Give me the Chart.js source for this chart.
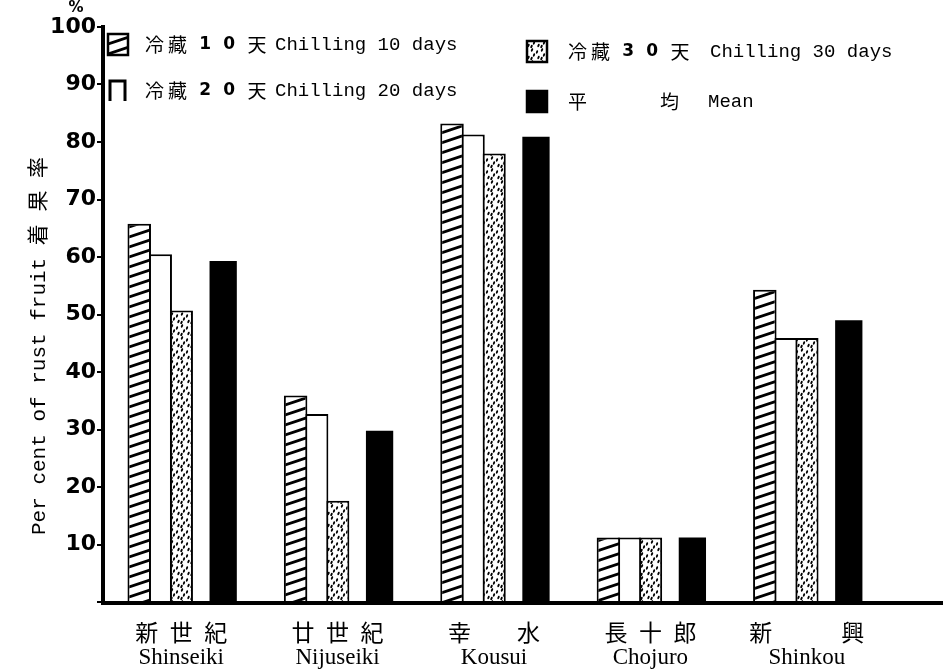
<!DOCTYPE html>
<html>
<head>
<meta charset="utf-8">
<script src="https://cdn.jsdelivr.net/npm/chart.js@4.4.1/dist/chart.umd.min.js"></script>
<style>
  html, body { margin: 0; padding: 0; background: #fff; }
  #caja { width: 943px; height: 671px; position: relative; }
</style>
</head>
<body>
<div id="caja"><canvas id="grafico"></canvas></div>
<script>
const variedades = [
  ["新  世  紀", "Shinseiki"],
  ["廿  世  紀", "Nijuseiki"],
  ["幸　　水", "Kousui"],
  ["長  十  郎", "Chojuro"],
  ["新　　　興", "Shinkou"]
];
const frio10 = [65.8, 35.9, 83.2, 11.2, 54.3];
const frio20 = [60.5, 32.7, 81.3, 11.2, 45.9];
const frio30 = [50.7, 17.6, 78.0, 11.2, 45.9];
const promedio = [59.3, 29.8, 80.9, 11.2, 49.0];
const hueco = [null, null, null, null, null];

const etiquetasCjk = ["冷藏 1 0 天", "冷藏 2 0 天", "冷藏 3 0 天", "平　　　均"];
const etiquetasEn = ["Chilling 10 days", "Chilling 20 days", "Chilling 30 days", "Mean"];
const tituloY = "Per cent of rust fruit 着 果 率";

// patrones de relleno
function patronRayado() {
  const c = document.createElement("canvas");
  c.width = 30; c.height = 10;
  const g = c.getContext("2d");
  g.fillStyle = "#fff";
  g.fillRect(0, 0, 30, 10);
  g.strokeStyle = "#000";
  g.lineWidth = 2.8;
  for (let k = -2; k <= 2; k++) {
    g.beginPath();
    g.moveTo(-30, 20 + k * 10);
    g.lineTo(60, -10 + k * 10);
    g.stroke();
  }
  return g.createPattern(c, "repeat");
}

function patronPuntos() {
  const c = document.createElement("canvas");
  c.width = 10; c.height = 12;
  const g = c.getContext("2d");
  g.fillStyle = "#fff";
  g.fillRect(0, 0, 10, 12);
  g.fillStyle = "#000";
  [[2, 2], [7, 4], [4, 7], [8.5, 9.5], [1.5, 10.5]].forEach(p => {
    g.beginPath();
    g.ellipse(p[0], p[1], 1.0, 1.8, 0.35, 0, Math.PI * 2);
    g.fill();
  });
  return g.createPattern(c, "repeat");
}

const rayado = patronRayado();
const puntos = patronPuntos();

function textoCjk(ctx, texto, x, y) {
  let px = x;
  for (const ch of texto) {
    if (/[0-9]/.test(ch)) ctx.font = "bold 17px 'DejaVu Sans'";
    else ctx.font = "19px 'Noto Sans CJK JP'";
    ctx.fillText(ch, px, y);
    px += ctx.measureText(ch).width + 4;
  }
}

const leyenda = {
  id: "leyenda",
  afterDraw(chart) {
    const ctx = chart.ctx;
    ctx.save();
    ctx.fillStyle = "#000";
    ctx.textBaseline = "middle";

    // "%" sobre el eje
    ctx.font = "bold 15px 'DejaVu Sans'";
    ctx.textAlign = "center";
    ctx.fillText("%", 76, 8);
    ctx.textAlign = "left";

    const sitios = [[108, 34, 145, 275], [108, 80, 145, 275], [527, 41, 568, 710], [527, 91, 568, 708]];
    const fondos = [rayado, "#fff", puntos, "#000"];
    sitios.forEach((s, i) => {
      const [sx, sy, cx, ex] = s;
      if (i === 1) {
        ctx.strokeStyle = "#000";
        ctx.lineWidth = 3;
        ctx.beginPath();
        ctx.moveTo(sx + 2, sy + 21);
        ctx.lineTo(sx + 2, sy + 1);
        ctx.lineTo(sx + 17, sy + 1);
        ctx.lineTo(sx + 17, sy + 21);
        ctx.stroke();
      } else {
        ctx.fillStyle = fondos[i];
        ctx.fillRect(sx, sy, 20, 21);
        ctx.strokeStyle = "#000";
        ctx.lineWidth = 2.5;
        ctx.strokeRect(sx, sy, 20, 21);
      }
      ctx.fillStyle = "#000";
      textoCjk(ctx, etiquetasCjk[i], cx, sy + 11);
      ctx.font = "19px 'Liberation Mono'";
      ctx.fillText(etiquetasEn[i], ex, sy + 11);
    });
    ctx.restore();
  }
};

const lineaBase = {
  id: "lineaBase",
  afterDatasetsDraw(chart) {
    const ctx = chart.ctx;
    const a = chart.chartArea;
    ctx.save();
    ctx.strokeStyle = "#000";
    ctx.lineWidth = 4;
    ctx.beginPath();
    ctx.moveTo(a.left - 2, a.bottom + 1);
    ctx.lineTo(chart.width, a.bottom + 1);
    ctx.stroke();
    ctx.restore();
  }
};

const ctx = document.getElementById("grafico").getContext("2d");

const grafico = new Chart(ctx, {
  type: "bar",
  data: {
    labels: variedades,
    datasets: [
      { label: etiquetasEn[0], data: frio10, backgroundColor: rayado, borderColor: "#000", borderWidth: 2, barPercentage: 1.12 },
      { label: etiquetasEn[1], data: frio20, backgroundColor: "#fff", borderColor: "#000", borderWidth: 2, barPercentage: 1.12 },
      { label: etiquetasEn[2], data: frio30, backgroundColor: puntos, borderColor: "#000", borderWidth: 2, barPercentage: 1.12 },
      { label: "", data: hueco },
      { label: etiquetasEn[3], data: promedio, backgroundColor: "#000", borderWidth: 0, barPercentage: 1.3 }
    ]
  },
  options: {
    responsive: true,
    maintainAspectRatio: false,
    animation: false,
    datasets: {
      bar: { barPercentage: 1, categoryPercentage: 0.671 }
    },
    layout: { padding: { top: 27, right: 58, left: 0, bottom: 0 } },
    plugins: {
      legend: { display: false },
      tooltip: { enabled: false }
    },
    scales: {
      x: {
        grid: { display: false },
        border: { display: false },
        ticks: {
          color: "#000",
          padding: 13,
          maxRotation: 0,
          autoSkip: false,
          font: { family: "'Liberation Serif', 'Noto Sans CJK JP', serif", size: 23, lineHeight: 1.0 }
        },
        afterFit(scale) { scale.height = 69; }
      },
      y: {
        min: 0,
        max: 100,
        grid: { drawOnChartArea: false, color: "#000", lineWidth: 2, tickLength: 6 },
        border: { display: true, color: "#000", width: 4 },
        ticks: {
          stepSize: 10,
          color: "#000",
          padding: 1,
          font: { family: "'DejaVu Sans'", size: 22, weight: "bold" },
          callback: v => v === 0 ? "" : v
        },
        title: {
          display: true,
          text: tituloY + "\u3000\u3000\u3000",
          color: "#000",
          padding: { top: 27, bottom: 0 },
          font: { family: "'Liberation Mono', 'Noto Sans CJK JP', monospace", size: 21 }
        },
        afterFit(scale) { scale.width = 103; }
      }
    }
  },
  plugins: [leyenda, lineaBase]
});
</script>
</body>
</html>
